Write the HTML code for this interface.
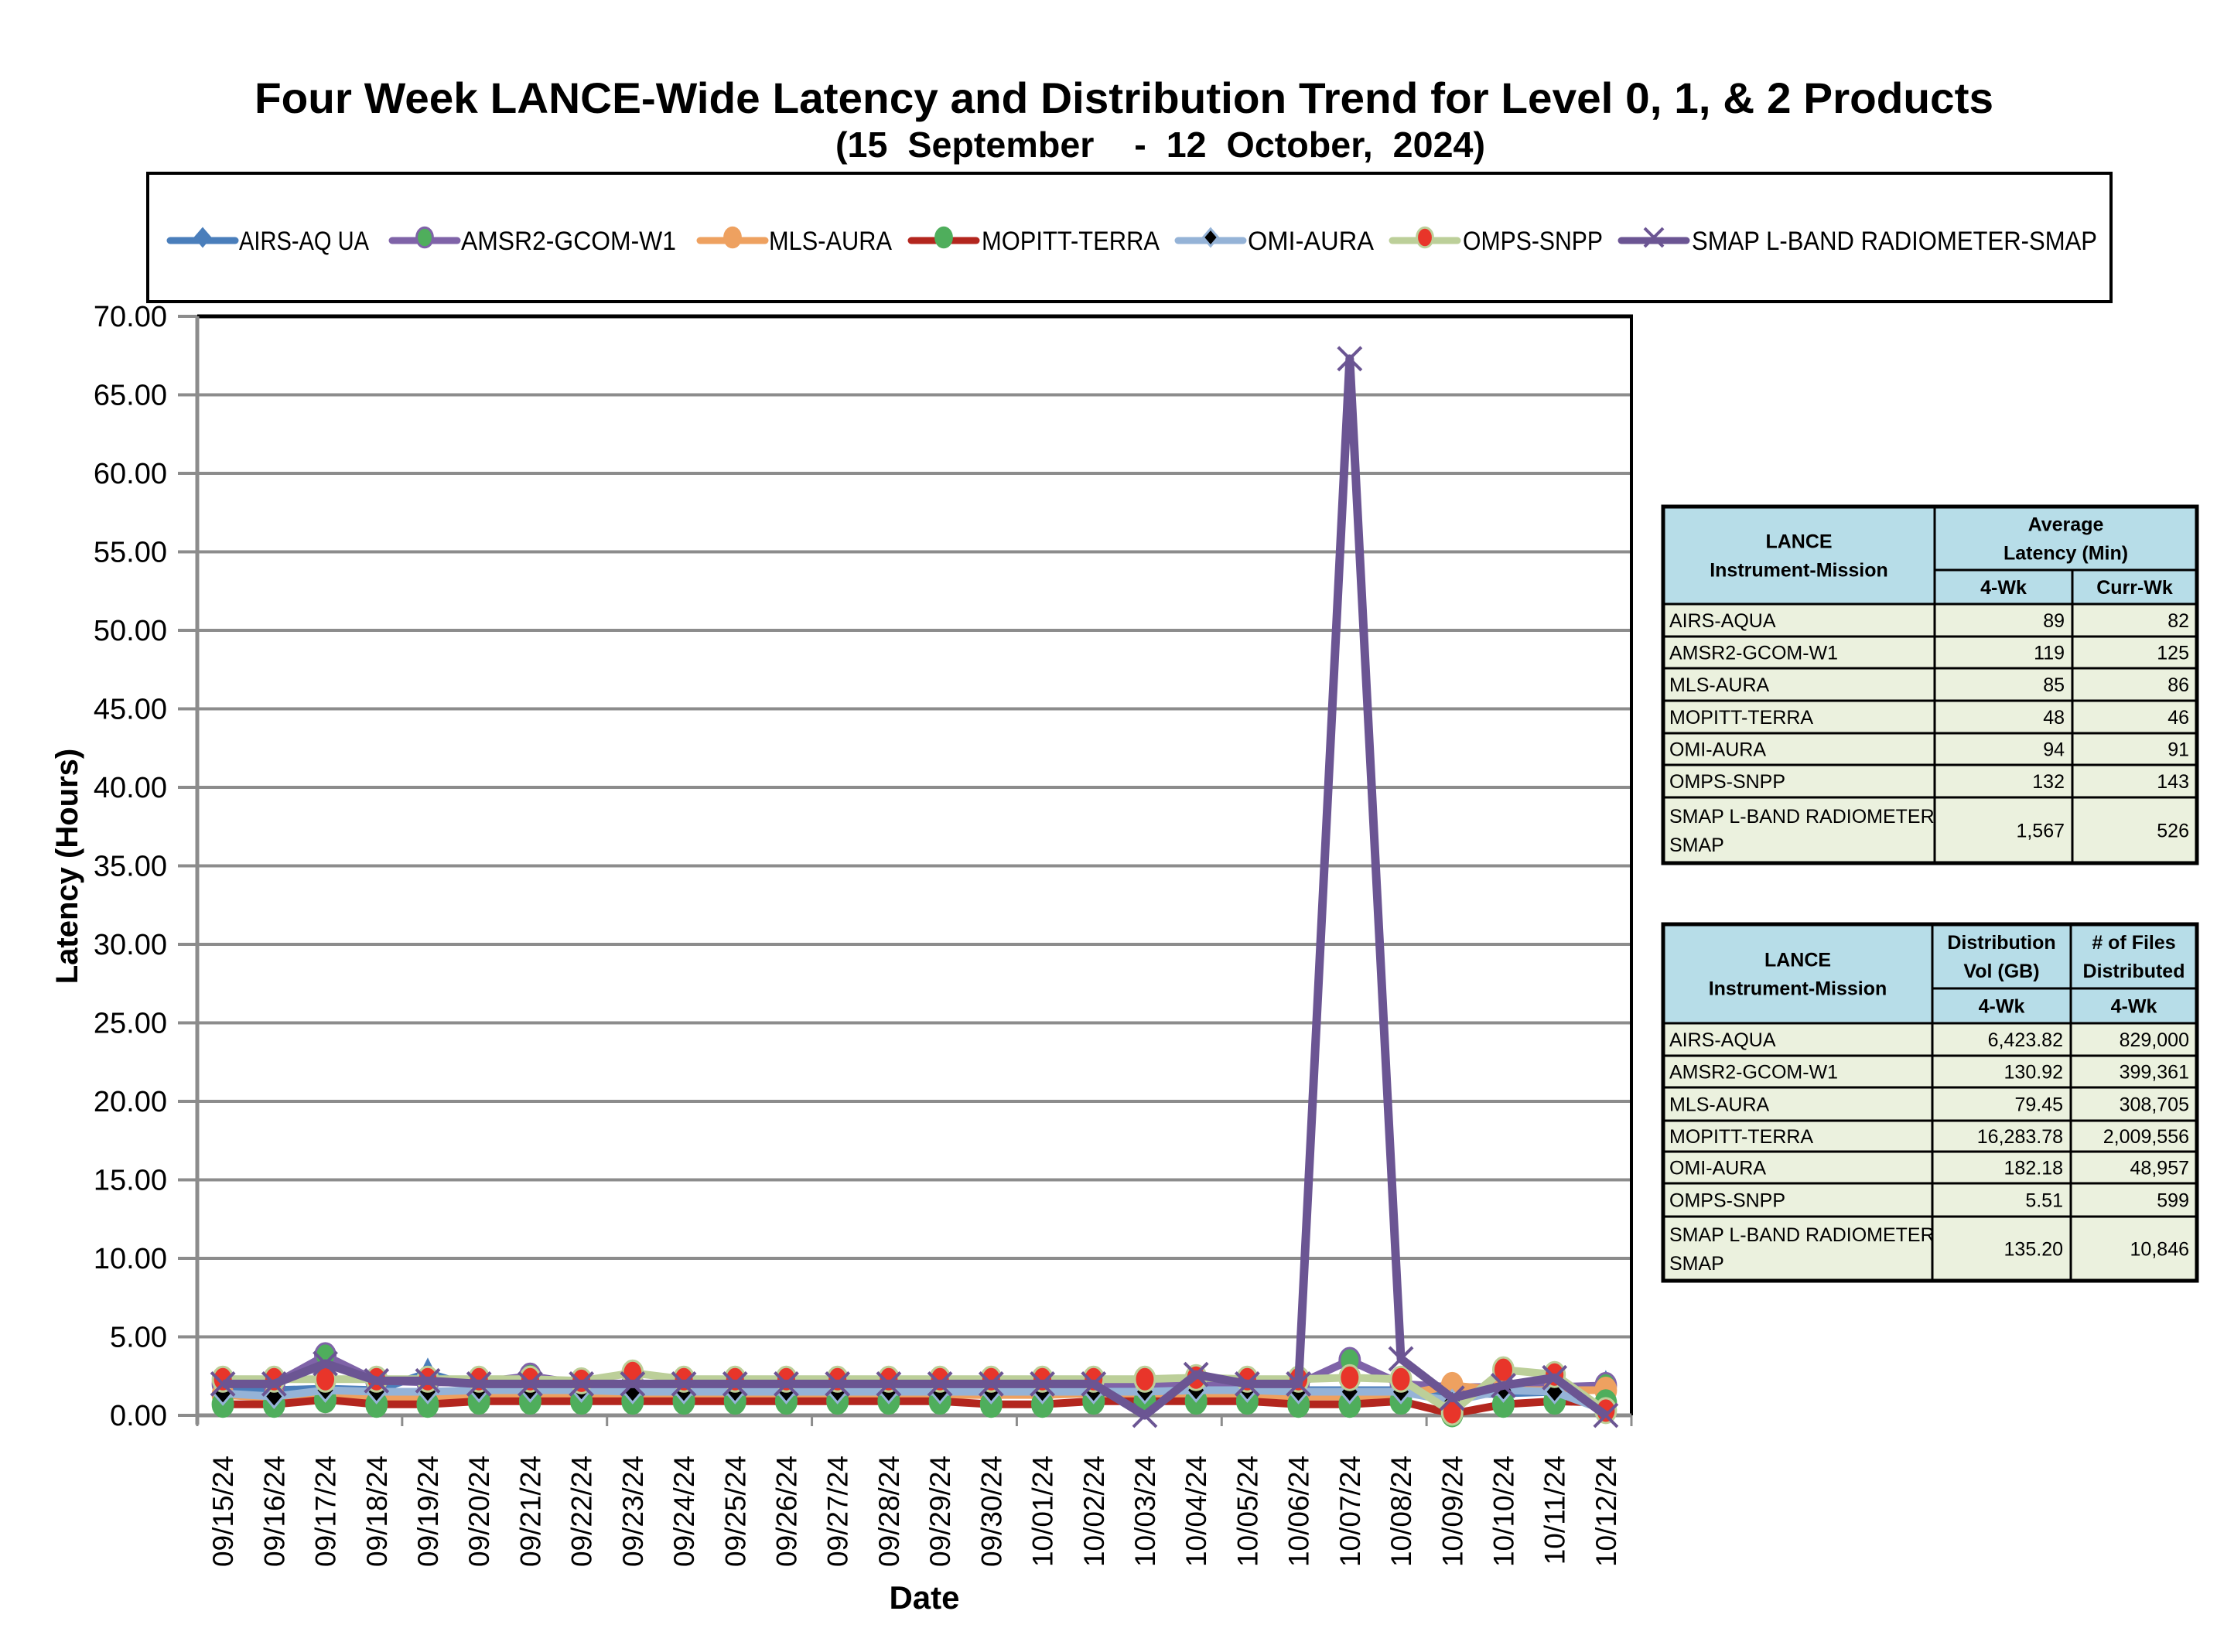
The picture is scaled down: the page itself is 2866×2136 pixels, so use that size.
<!DOCTYPE html>
<html><head><meta charset="utf-8"><style>
html,body{margin:0;padding:0;background:#fff;}
svg{display:block;font-family:"Liberation Sans",sans-serif;}
</style></head><body>
<svg id="chart" width="2866" height="2136" viewBox="0 0 2866 2136" xmlns="http://www.w3.org/2000/svg">
<text x="1453" y="146" text-anchor="middle" font-size="56" font-weight="bold" textLength="2248" lengthAdjust="spacingAndGlyphs">Four Week LANCE-Wide Latency and Distribution Trend for Level 0, 1, &amp; 2 Products</text>
<text x="1500" y="203" text-anchor="middle" font-size="46" font-weight="bold" textLength="840" lengthAdjust="spacingAndGlyphs" xml:space="preserve">(15  September    -  12  October,  2024)</text>
<rect x="191" y="224" width="2538" height="166" fill="#fff" stroke="#000" stroke-width="4"/>
<g id="legend"></g>
<g id="grid"></g>
<g id="yaxis"></g>
<g id="xaxis"></g>
<g id="series"></g>
<text transform="translate(100,1120) rotate(-90)" text-anchor="middle" font-size="40" font-weight="bold">Latency (Hours)</text>
<text x="1195" y="2080" text-anchor="middle" font-size="42" font-weight="bold">Date</text>
<g id="tables"></g>
</svg>
<script>
const NS="http://www.w3.org/2000/svg";
const categories=["09/15/24","09/16/24","09/17/24","09/18/24","09/19/24","09/20/24","09/21/24","09/22/24","09/23/24","09/24/24","09/25/24","09/26/24","09/27/24","09/28/24","09/29/24","09/30/24","10/01/24","10/02/24","10/03/24","10/04/24","10/05/24","10/06/24","10/07/24","10/08/24","10/09/24","10/10/24","10/11/24","10/12/24"];
const yTicks=[0,5,10,15,20,25,30,35,40,45,50,55,60,65,70];
const airsAqua=[1.6,1.6,1.7,1.6,2.7,1.7,1.7,1.6,1.6,1.6,1.6,1.6,1.6,1.6,1.6,1.6,1.6,1.6,1.5,1.6,1.6,1.6,1.6,1.6,1.3,1.4,1.5,1.9];
const amsr2=[2.0,2.0,3.8,2.2,2.1,2.1,2.5,2.0,2.0,2.0,2.0,2.0,2.0,2.0,2.0,2.0,2.0,2.0,2.0,2.0,2.0,2.0,3.5,2.0,1.8,1.8,1.8,1.9];
const mlsAura=[1.3,1.1,1.1,1.1,1.1,1.2,1.2,1.3,1.3,1.2,1.3,1.3,1.3,1.3,1.3,1.3,1.3,1.4,1.3,1.4,1.3,1.2,1.2,1.3,1.9,1.6,1.6,1.6];
const mopitt=[0.7,0.7,1.0,0.7,0.7,0.9,0.9,0.9,0.9,0.9,0.9,0.9,0.9,0.9,0.9,0.7,0.7,0.9,0.9,0.9,0.9,0.7,0.7,0.9,0.1,0.7,0.9,0.8];
const omiAura=[1.4,1.2,1.6,1.5,1.5,1.6,1.6,1.6,1.5,1.5,1.5,1.5,1.5,1.5,1.5,1.5,1.5,1.5,1.5,1.6,1.6,1.5,1.5,1.5,0.9,1.6,1.5,0.3];
const ompsSnpp=[2.3,2.3,2.3,2.3,2.3,2.3,2.3,2.2,2.7,2.3,2.3,2.3,2.3,2.3,2.3,2.3,2.3,2.3,2.3,2.4,2.3,2.3,2.4,2.3,0.2,2.9,2.6,0.3];
const smap=[2.0,2.0,3.3,2.2,2.2,2.0,2.0,2.0,2.0,2.0,2.0,2.0,2.0,2.0,2.0,2.0,2.0,2.0,0.0,2.6,2.0,2.0,67.3,3.6,1.1,1.9,2.4,0.0];

const L=255,R=2109,T=409,B=1830,YMAX=70;
const xs=i=>L+(i+0.5)*(R-L)/categories.length;
const ys=v=>B-v*(B-T)/YMAX;
function mk(tag,attrs,parent){const e=document.createElementNS(NS,tag);for(const k in attrs)e.setAttribute(k,attrs[k]);parent.appendChild(e);return e;}

const grid=document.getElementById('grid'),yaxis=document.getElementById('yaxis'),xaxis=document.getElementById('xaxis');
yTicks.forEach(t=>{
  const y=ys(t);
  const g=mk('line',{x1:L-25,x2:R,y1:y,y2:y,stroke:'#8c8c8c','stroke-width':4},grid);
  
  
  const tx=mk('text',{x:216,y:y+13,'text-anchor':'end','font-size':38},yaxis);
  tx.textContent=t.toFixed(2);
  
  
});
const yAxisLine=mk('line',{x1:L,x2:L,y1:T,y2:B+12,stroke:'#8c8c8c','stroke-width':5},yaxis);


const plotTopBorder=mk('line',{x1:L,x2:R+2,y1:T,y2:T,stroke:'#000','stroke-width':5},grid);


const plotRightBorder=mk('line',{x1:R,x2:R,y1:T,y2:B,stroke:'#000','stroke-width':4},grid);


const xAxisLine=mk('line',{x1:L,x2:R,y1:B,y2:B,stroke:'#8c8c8c','stroke-width':5},xaxis);


for(let i=0;i<=categories.length;i+=4){
  const x=L+i*(R-L)/categories.length;
  const tk=mk('line',{x1:x,x2:x,y1:B,y2:B+14,stroke:'#8c8c8c','stroke-width':3},xaxis);
  
  
}
categories.forEach((c,i)=>{
  const x=xs(i);
  const t=mk('text',{transform:`translate(${x+13},1882) rotate(-90)`,'text-anchor':'end','font-size':37},xaxis);
  t.textContent=c;
  
  
});

const seriesDefs=[
 {name:'AIRS-AQUA',data:airsAqua,color:'#4a7ebb',marker:'triangle',fill:'#4a7ebb',edge:'#4a7ebb'},
 {name:'AMSR2-GCOM-W1',data:amsr2,color:'#7f63a8',marker:'circle',fill:'#4fae5c',edge:'#7f63a8'},
 {name:'MLS-AURA',data:mlsAura,color:'#eea160',marker:'circle',fill:'#eea160',edge:'#eea160'},
 {name:'MOPITT-TERRA',data:mopitt,color:'#b3261e',marker:'circle',fill:'#4fae5c',edge:'#4fae5c'},
 {name:'OMI-AURA',data:omiAura,color:'#95b3d7',marker:'diamond',fill:'#000',edge:'#95b3d7'},
 {name:'OMPS-SNPP',data:ompsSnpp,color:'#bccf99',marker:'circle',fill:'#e8352a',edge:'#bccf99'},
 {name:'SMAP L-BAND RADIOMETER-SMAP',data:smap,color:'#6b5593',marker:'x',fill:'none',edge:'#6b5593'}
];
function marker(m,x,y,d,parent,scale){
  const s=scale||1;let e;
  if(m.marker==='circle') e=mk('ellipse',{cx:x,cy:y,rx:13*s,ry:16*s,fill:m.fill,stroke:m.edge,'stroke-width':3},parent);
  else if(m.marker==='triangle') e=mk('polygon',{points:`${x},${y-20*s} ${x+13*s},${y+6*s} ${x-13*s},${y+6*s}`,fill:m.fill},parent);
  else if(m.marker==='diamond') e=mk('polygon',{points:`${x},${y-14*s} ${x+12*s},${y} ${x},${y+14*s} ${x-12*s},${y}`,fill:m.fill,stroke:m.edge,'stroke-width':3},parent);
  else e=mk('path',{d:`M${x-15*s},${y-15*s}L${x+15*s},${y+15*s}M${x+15*s},${y-15*s}L${x-15*s},${y+15*s}`,stroke:m.edge,'stroke-width':4,fill:'none'},parent);
  return e;
}
const sg=document.getElementById('series');
seriesDefs.forEach(s=>{
  const g=mk('g',{},sg);
  
  
  const pts=s.data.map((v,i)=>xs(i)+','+ys(v)).join(' ');
  const pl=mk('polyline',{points:pts,fill:'none',stroke:s.color,'stroke-width':s.marker==='x'?11:10,'stroke-linejoin':'round'},g);
  
  
  s.data.forEach((v,i)=>{
    const e=marker(s,xs(i),ys(v),null,g);
    
    
  });
});

const legendPos=[[220,309],[507,596],[905,994],[1178,1269],[1523,1613],[1800,1891],[2096,2187]];
const legendW=[168,278,159,230,163,181,524];
const lg=document.getElementById('legend');
seriesDefs.forEach((s,i)=>{
  const g=mk('g',{},lg);
  
  
  const y=311,x0=legendPos[i][0],x1=x0+84;
  mk('line',{x1:x0,x2:x1,y1:y,y2:y,stroke:s.color,'stroke-width':9,'stroke-linecap':'round'},g);
  const ms=Object.assign({},s);
  if(s.marker==='triangle') ms.marker='diamond';
  marker(ms,(x0+x1)/2,y-4,null,g,0.8);
  const t=mk('text',{x:legendPos[i][1],y:y+12,'font-size':34,textLength:legendW[i],lengthAdjust:'spacingAndGlyphs'},g);
  t.textContent=s.name.replace('AIRS-AQUA','AIRS-AQ UA');
});

const tg=document.getElementById('tables');
function table(cols,rows,cells,hdrRows,name){
  const g=mk('g',{},tg);
  
  
  cells.forEach(c=>{
    const [r0,r1,c0,c1,txt,align,bold]=c;
    const x=cols[c0],w=cols[c1]-cols[c0],y=rows[r0],h=rows[r1]-rows[r0];
    mk('rect',{x:x,y:y,width:w,height:h,fill:r0<hdrRows?'#b7dde8':'#ebf1de',stroke:'#000','stroke-width':3},g);
    const lines=txt.split('\n');
    lines.forEach((ln,k)=>{
      const ty=y+h/2+9+(k-(lines.length-1)/2)*37;
      let tx,anc;
      if(align==='c'){tx=x+w/2;anc='middle';}else if(align==='r'){tx=x+w-10;anc='end';}else{tx=x+8;anc='start';}
      const t=mk('text',{x:tx,y:ty,'text-anchor':anc,'font-size':25,'font-weight':bold?'bold':'normal'},g);
      t.textContent=ln;
    });
  });
  mk('rect',{x:cols[0],y:rows[0],width:cols[cols.length-1]-cols[0],height:rows[rows.length-1]-rows[0],fill:'none',stroke:'#000','stroke-width':5},g);
}
const names=['AIRS-AQUA','AMSR2-GCOM-W1','MLS-AURA','MOPITT-TERRA','OMI-AURA','OMPS-SNPP','SMAP L-BAND RADIOMETER-\nSMAP'];
const lat4=['89','119','85','48','94','132','1,567'];
const latCur=['82','125','86','46','91','143','526'];
const vol=['6,423.82','130.92','79.45','16,283.78','182.18','5.51','135.20'];
const files=['829,000','399,361','308,705','2,009,556','48,957','599','10,846'];
let c1=[[0,2,0,1,'LANCE\nInstrument-Mission','c',1],[0,1,1,3,'Average\nLatency (Min)','c',1],[1,2,1,2,'4-Wk','c',1],[1,2,2,3,'Curr-Wk','c',1]];
names.forEach((n,i)=>{c1.push([i+2,i+3,0,1,n,'l',0],[i+2,i+3,1,2,lat4[i],'r',0],[i+2,i+3,2,3,latCur[i],'r',0]);});
table([2150,2501,2679,2840],[655,737,781,823,864,906,948,989,1031,1116],c1,2,'latency-table');
let c2=[[0,2,0,1,'LANCE\nInstrument-Mission','c',1],[0,1,1,2,'Distribution\nVol (GB)','c',1],[0,1,2,3,'# of Files\nDistributed','c',1],[1,2,1,2,'4-Wk','c',1],[1,2,2,3,'4-Wk','c',1]];
names.forEach((n,i)=>{c2.push([i+2,i+3,0,1,n,'l',0],[i+2,i+3,1,2,vol[i],'r',0],[i+2,i+3,2,3,files[i],'r',0]);});
table([2150,2498,2677,2840],[1195,1278,1323,1365,1406,1449,1489,1530,1573,1656],c2,2,'distribution-table');
</script>
</body></html>
